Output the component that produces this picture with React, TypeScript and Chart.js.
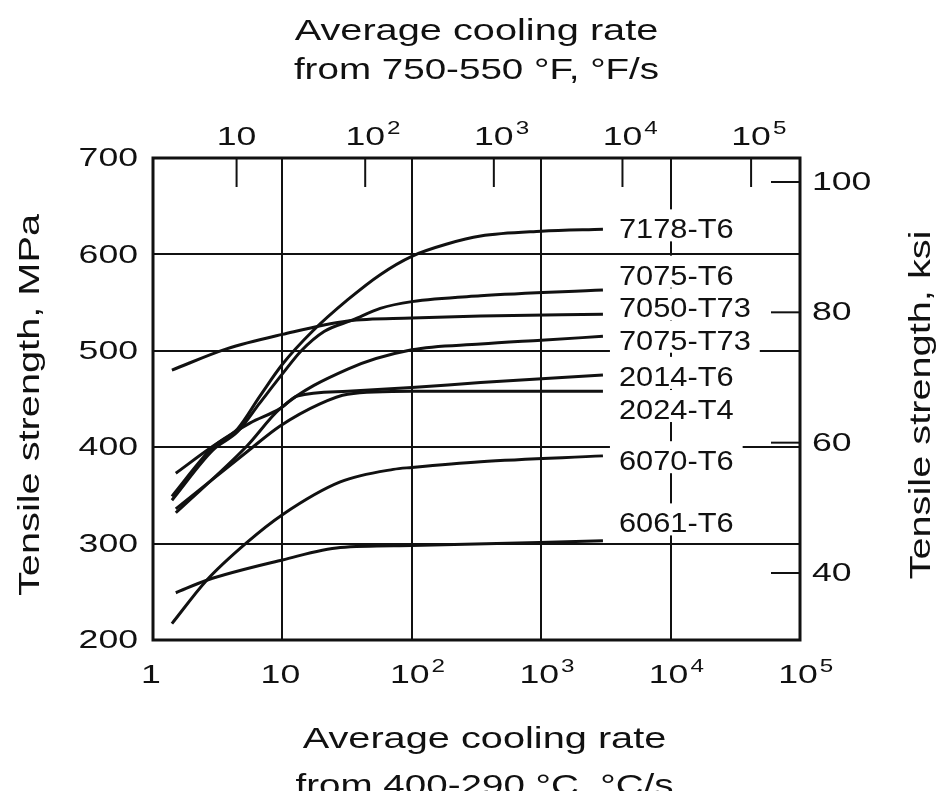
import React, { useEffect, useRef } from 'react';
import { Chart, registerables } from 'chart.js';

Chart.register(...registerables);

// ---- data (°C/s vs MPa) ----
const seriesNames = ['7178-T6', '7075-T6', '7050-T73', '7075-T73', '2014-T6', '2024-T4', '6070-T6', '6061-T6'];

const rate7178 = [1.4, 2.9, 4.5, 6.7, 10, 17, 32, 57, 100, 190, 340, 1000, 3000];
const mpa7178 = [349, 400, 419, 453, 486, 520, 553, 579, 598, 611, 619, 624, 626];

const rate7075T6 = [1.4, 2.9, 4.5, 6.7, 10, 14, 21, 35, 57, 100, 340, 3000];
const mpa7075T6 = [345, 397, 416, 446, 476, 500, 520, 532, 544, 551, 557, 563];

const rate7050 = [1.4, 3.7, 10, 32, 100, 340, 3000];
const mpa7050 = [480, 502, 517, 531, 534, 536, 538];

const rate7075T73 = [1.5, 5.3, 9.6, 32, 100, 340, 1000, 3000];
const mpa7075T73 = [332, 401, 440, 481, 501, 507, 511, 515];

const rate2014 = [1.5, 2.9, 5.6, 9.6, 13, 32, 100, 340, 3000];
const mpa2014 = [373, 401, 425, 440, 453, 458, 462, 467, 475];

const rate2024 = [1.5, 5.3, 9.6, 19.5, 32, 100, 3000];
const mpa2024 = [336, 395, 422, 445, 455, 458, 458];

const rate6070 = [1.4, 2.6, 5.3, 10, 28, 72, 100, 340, 3000];
const mpa6070 = [217, 262, 301, 330, 364, 377, 379, 385, 391];

const rate6061 = [1.5, 2.6, 10, 28, 100, 3000];
const mpa6061 = [249, 262, 283, 296, 298, 303];

const seriesRates = [rate7178, rate7075T6, rate7050, rate7075T73, rate2014, rate2024, rate6070, rate6061];
const seriesMPa = [mpa7178, mpa7075T6, mpa7050, mpa7075T73, mpa2014, mpa2024, mpa6070, mpa6061];

// label anchor heights (MPa) for the curve names
const labelMPa = [627, 579, 545, 511.5, 474, 439.6, 386.5, 322];

// ---- ticks ----
const bottomTicks = [1, 10, 100, 1000, 10000, 100000];
const topTicks = [10, 100, 1000, 10000, 100000];
const leftTicks = [200, 300, 400, 500, 600, 700];
const rightTicks = [40, 60, 80, 100];

const FONT = '"Liberation Sans", Arial, Helvetica, sans-serif';
const INK = '#111';

function stretchText(ctx: CanvasRenderingContext2D, text: string, x: number, y: number, size: number, sx: number, align: CanvasTextAlign, baseline: CanvasTextBaseline, rotate = false) {
  ctx.save();
  ctx.translate(x, y);
  if (rotate) ctx.rotate(-Math.PI / 2);
  ctx.scale(sx, 1);
  ctx.font = `${size}px ${FONT}`;
  ctx.fillStyle = INK;
  ctx.textAlign = align;
  ctx.textBaseline = baseline;
  ctx.fillText(text, 0, 0);
  ctx.restore();
}

function powLabel(ctx: CanvasRenderingContext2D, v: number, cx: number, baseline: number, size: number, sx: number) {
  const exp = Math.round(Math.log10(v));
  if (exp <= 1) {
    stretchText(ctx, String(v), cx, baseline, size, sx, 'center', 'alphabetic');
    return;
  }
  ctx.font = `${size}px ${FONT}`;
  const w = ctx.measureText('10').width * sx;
  stretchText(ctx, '10', cx, baseline, size, sx, 'center', 'alphabetic');
  stretchText(ctx, String(exp), cx + w / 2 + 2, baseline - size * 0.42, size * 0.68, sx, 'left', 'alphabetic');
}

const decorPlugin = {
  id: 'decor',
  afterDatasetsDraw(chart: any) {
    const { ctx, chartArea } = chart;
    const xs = chart.scales.x;
    const ys = chart.scales.y;
    const x2 = chart.scales.x2;
    const y2 = chart.scales.y2;
    const ca = chartArea;

    // curve name labels with white masks
    const lastX = xs.getPixelForValue(3000);
    ctx.save();
    seriesNames.forEach((name, i) => {
      const ly = ys.getPixelForValue(labelMPa[i]);
      ctx.font = `28px ${FONT}`;
      const w = ctx.measureText(name).width * 1.1;
      ctx.fillStyle = '#fff';
      ctx.fillRect(lastX + 7, ly - 19, w + 18, 32);
      stretchText(ctx, name, lastX + 16, ly + 10, 28, 1.1, 'left', 'alphabetic');
    });
    ctx.restore();

    // inward ticks: top axis and right axis
    ctx.save();
    ctx.strokeStyle = INK;
    ctx.lineWidth = 2;
    topTicks.forEach((v) => {
      const px = x2.getPixelForValue(v);
      ctx.beginPath();
      ctx.moveTo(px, ca.top);
      ctx.lineTo(px, ca.top + 29);
      ctx.stroke();
    });
    rightTicks.forEach((v) => {
      const py = y2.getPixelForValue(v);
      ctx.beginPath();
      ctx.moveTo(ca.right - 29, py);
      ctx.lineTo(ca.right, py);
      ctx.stroke();
    });
    // frame
    ctx.lineWidth = 3;
    ctx.strokeRect(ca.left, ca.top, ca.right - ca.left, ca.bottom - ca.top);
    ctx.restore();

    // tick labels
    const SX = 1.37;
    leftTicks.forEach((v) => {
      stretchText(ctx, String(v), ca.left - 15, ys.getPixelForValue(v) + 1, 26, SX, 'right', 'middle');
    });
    rightTicks.forEach((v) => {
      stretchText(ctx, String(v), ca.right + 12, y2.getPixelForValue(v) + 1, 26, SX, 'left', 'middle');
    });
    bottomTicks.forEach((v) => {
      powLabel(ctx, v, xs.getPixelForValue(v) - 2, ca.bottom + 43, 26, SX);
    });
    topTicks.forEach((v) => {
      powLabel(ctx, v, x2.getPixelForValue(v), ca.top - 13, 26, SX);
    });

    // axis titles
    const cxMid = (ca.left + ca.right) / 2;
    stretchText(ctx, 'Average cooling rate', cxMid, 40, 29, SX, 'center', 'alphabetic');
    stretchText(ctx, 'from 750-550 °F, °F/s', cxMid, 79, 29, 1.33, 'center', 'alphabetic');
    stretchText(ctx, 'Average cooling rate', cxMid + 8, 748, 29, SX, 'center', 'alphabetic');
    stretchText(ctx, 'from 400-290 °C, °C/s', cxMid + 8, 795, 29, 1.33, 'center', 'alphabetic');
    const cyMid = (ca.top + ca.bottom) / 2 + 6;
    stretchText(ctx, 'Tensile strength, MPa', 31, cyMid, 29, SX, 'center', 'middle', true);
    stretchText(ctx, 'Tensile strength, ksi', 922, cyMid, 29, SX, 'center', 'middle', true);
  },
};

export default function App() {
  const canvasRef = useRef<HTMLCanvasElement | null>(null);

  useEffect(() => {
    const canvas = canvasRef.current;
    if (!canvas) return;
    const datasets = seriesNames.map((name, i) => ({
      label: name,
      data: seriesRates[i].map((r, j) => ({ x: r, y: seriesMPa[i][j] })),
      borderColor: INK,
      backgroundColor: INK,
      borderWidth: 3,
      pointRadius: 0,
      cubicInterpolationMode: 'monotone' as const,
      fill: false,
      xAxisID: 'x',
      yAxisID: 'y',
    }));

    const setTicks = (vals: number[]) => (scale: any) => {
      scale.ticks = vals.map((v) => ({ value: v }));
    };

    const chart = new Chart(canvas, {
      type: 'line',
      data: { datasets },
      plugins: [decorPlugin],
      options: {
        animation: false,
        responsive: false,
        devicePixelRatio: 1,
        layout: { padding: { left: 153, top: 158, right: 139, bottom: 151 } },
        plugins: { legend: { display: false }, tooltip: { enabled: false } },
        scales: {
          x: {
            type: 'logarithmic',
            position: 'bottom',
            min: 1,
            max: 100000,
            afterBuildTicks: setTicks(bottomTicks),
            ticks: { display: false },
            grid: { color: INK, lineWidth: 2, drawTicks: false },
            border: { display: false },
          },
          x2: {
            type: 'logarithmic',
            position: 'top',
            min: 2.24,
            max: 240000,
            afterBuildTicks: setTicks(topTicks),
            ticks: { display: false },
            grid: { display: false, drawTicks: false },
            border: { display: false },
          },
          y: {
            type: 'linear',
            position: 'left',
            min: 200,
            max: 700,
            afterBuildTicks: setTicks(leftTicks),
            ticks: { display: false },
            grid: { color: INK, lineWidth: 2, drawTicks: false },
            border: { display: false },
          },
          y2: {
            type: 'linear',
            position: 'right',
            min: 29.72,
            max: 103.68,
            afterBuildTicks: setTicks(rightTicks),
            ticks: { display: false },
            grid: { display: false, drawTicks: false },
            border: { display: false },
          },
        },
      } as any,
    });
    return () => chart.destroy();
  }, []);

  return (
    <div style={{ position: 'absolute', left: 0, top: 0, width: 939, height: 791, background: '#fff' }}>
      <canvas ref={canvasRef} width={939} height={791} style={{ width: 939, height: 791, display: 'block' }} />
    </div>
  );
}
